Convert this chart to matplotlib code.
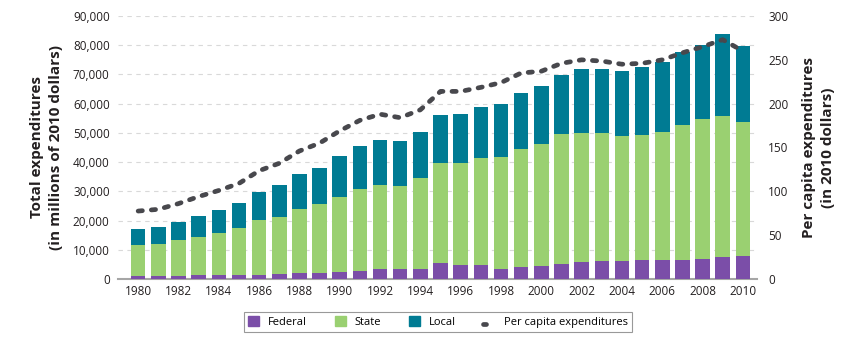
import matplotlib
matplotlib.use("Agg")
import matplotlib.pyplot as plt
from matplotlib.ticker import FuncFormatter, MultipleLocator
from matplotlib.lines import Line2D
from matplotlib.patches import Patch
import numpy as np

plt.rcParams['font.family'] = ['Open Sans', 'DejaVu Sans']

years = list(range(1980, 2011))
# cumulative tops (thousands of millions of 2010 dollars)
federal = [1.0, 0.9, 1.1, 1.2, 1.3, 1.4, 1.4, 1.6, 1.9, 2.0, 2.3, 2.7, 3.4, 3.3, 3.5, 5.5,
           4.8, 4.7, 3.5, 4.2, 4.6, 5.3, 5.7, 6.3, 6.3, 6.6, 6.6, 6.6, 7.0, 7.4, 7.8]
state_top = [11.6, 12.0, 13.2, 14.4, 15.6, 17.5, 20.2, 21.3, 24.0, 25.7, 28.1, 30.8, 32.2, 31.8, 34.6, 39.6,
             39.6, 41.4, 41.8, 44.4, 46.3, 49.7, 50.0, 50.0, 49.0, 49.3, 50.2, 52.7, 54.7, 55.8, 53.8]
total = [17.2, 17.9, 19.5, 21.6, 23.5, 26.0, 29.7, 32.1, 35.8, 38.1, 42.1, 45.5, 47.6, 47.3, 50.4, 56.2,
         56.5, 58.7, 60.0, 63.8, 66.2, 69.9, 71.9, 71.8, 71.2, 72.4, 74.1, 77.7, 80.1, 83.7, 79.9]
per_capita = [77.5, 79.5, 86, 94, 101, 109, 123.5, 132, 146, 155, 169, 181, 188, 184, 193, 214,
              214, 218.6, 224, 235, 237, 246, 250, 248.6, 245, 246, 250, 258, 265, 273, 260]

fed_v = np.array(federal) * 1000
state_v = (np.array(state_top) - np.array(federal)) * 1000
local_v = (np.array(total) - np.array(state_top)) * 1000

c_fed = '#7b4ea8'
c_state = '#9ad071'
c_local = '#007b93'
c_line = '#48484d'
dash = (0, (0.9, 1.9))
lw_line = 3.4

fig = plt.figure(figsize=(8.44, 3.51), dpi=100)
ax = fig.add_axes([118/844, 1-279/351, (757-118)/844, (279-16)/351])

w = 0.72
ax.bar(years, fed_v, w, color=c_fed, zorder=3)
ax.bar(years, state_v, w, bottom=fed_v, color=c_state, zorder=3)
ax.bar(years, local_v, w, bottom=fed_v + state_v, color=c_local, zorder=3)

ax.set_ylim(0, 90000)
ax.set_xlim(1979.0, 2010.7)
ax.yaxis.set_major_locator(MultipleLocator(10000))
ax.yaxis.set_major_formatter(FuncFormatter(lambda v, p: f"{int(v):,}"))
ax.set_xticks(list(range(1980, 2011, 2)))
ax.grid(axis='y', color='#d9d9d9', linestyle=(0, (4, 4)), linewidth=0.8, zorder=0)
for s in ['top', 'right', 'left']:
    ax.spines[s].set_visible(False)
ax.spines['bottom'].set_color('#a6a6a6')
ax.spines['bottom'].set_linewidth(1.5)
ax.tick_params(axis='both', length=0, labelsize=8.5, colors='#231f20')
ax.tick_params(axis='y', pad=6)
ax.tick_params(axis='x', pad=4)

ax2 = ax.twinx()
ax2.set_ylim(0, 300)
ax2.yaxis.set_major_locator(MultipleLocator(50))
for s in ['top', 'right', 'left', 'bottom']:
    ax2.spines[s].set_visible(False)
ax2.tick_params(axis='y', length=0, labelsize=8.5, colors='#231f20', pad=8)
ax2.plot(years, per_capita, color=c_line, linewidth=lw_line, linestyle=dash,
         dash_capstyle='round', zorder=5)

fig.text(0.055, 0.58, "Total expenditures\n(in millions of 2010 dollars)", rotation=90,
         ha='center', va='center', fontsize=11, fontweight='bold', color='#231f20',
         linespacing=1.45)
fig.text(0.97, 0.58, "Per capita expenditures\n(in 2010 dollars)", rotation=90,
         ha='center', va='center', fontsize=11, fontweight='bold', color='#231f20',
         linespacing=1.45)

handles = [Patch(color=c_fed, label='Federal'),
           Patch(color=c_state, label='State'),
           Patch(color=c_local, label='Local'),
           Line2D([0], [0], color=c_line, linewidth=lw_line, linestyle=dash,
                  dash_capstyle='round', label='Per capita expenditures')]
leg = fig.legend(handles=handles, loc='center', bbox_to_anchor=(438/844, 1-322/351), ncol=4,
                 fontsize=8, frameon=True, fancybox=False, handlelength=1.0, handleheight=1.0,
                 columnspacing=2.5, handletextpad=0.8, borderpad=0.4)
leg.get_frame().set_edgecolor('#808080')
leg.get_frame().set_linewidth(0.8)
leg.legend_handles[3].set_data([-0.6, 1.6], [0.5, 0.5])

fig.savefig('out.png', dpi=100)
